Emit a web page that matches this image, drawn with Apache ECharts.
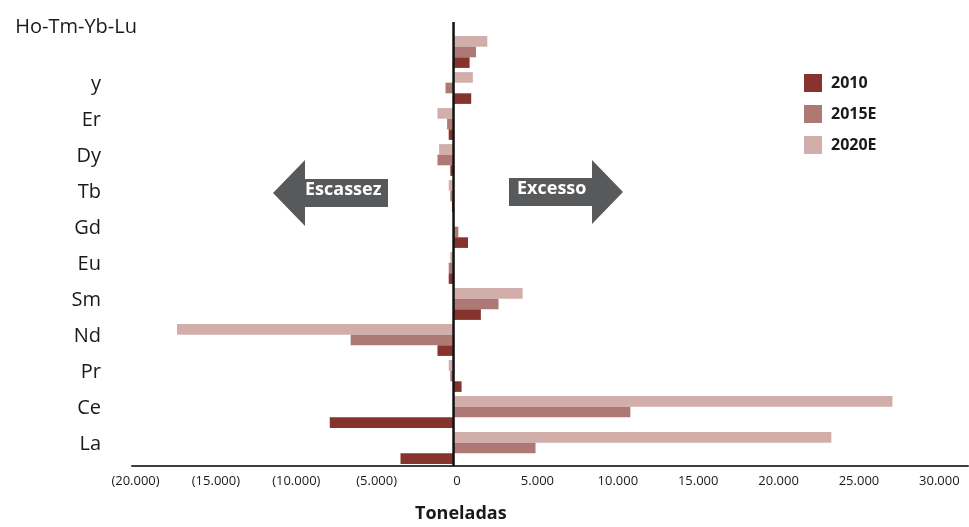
<!DOCTYPE html>
<html>
<head>
<meta charset="utf-8">
<script src="https://cdn.jsdelivr.net/npm/echarts@6/dist/echarts.min.js"></script>
<style>
  html, body { margin: 0; padding: 0; background: #ffffff; }
  #chart { width: 969px; height: 527px; }
</style>
</head>
<body>
<div id="chart"></div>
<script>
// Rare earth balance by element (tonnes): surplus to the right, shortage to the left
const categories = ['La', 'Ce', 'Pr', 'Nd', 'Sm', 'Eu', 'Gd', 'Tb', 'Dy', 'Er', 'y', 'Ho-Tm-Yb-Lu'];
const seriesNames = ['2010', '2015E', '2020E'];
const values2010  = [-3300, -7700,  500,  -1000, 1700, -300, 900, -100, -200, -300, 1100, 1000];
const values2015E = [ 5100, 11000, -200,  -6400, 2800, -300, 300, -200, -1000, -400, -500, 1400];
const values2020E = [23500, 27300, -300, -17200, 4300, -200,   0, -300, -900, -1000, 1200, 2100];
const tickValues = [-20000, -15000, -10000, -5000, 0, 5000, 10000, 15000, 20000, 25000, 30000];

const colors = { '2010': '#86332e', '2015E': '#ae7974', '2020E': '#d2aeab' };
const FONT = '"Open Sans", "Noto Sans", sans-serif';

function fmtThousands(v) {
  const s = String(Math.abs(v)).replace(/\B(?=(\d{3})+(?!\d))/g, '.');
  return v < 0 ? '(' + s + ')' : s;
}

function barSeries(name, data) {
  return {
    name: name, type: 'bar', data: data,
    barWidth: 10.6, barGap: '0%',
    itemStyle: { color: colors[name] }
  };
}

const chart = echarts.init(document.getElementById('chart'), null, { renderer: 'canvas' });

const option = {
  backgroundColor: '#ffffff',
  animation: false,
  grid: { left: 132, top: 34, width: 836, height: 432, containLabel: false },
  legend: {
    data: seriesNames,
    orient: 'vertical',
    left: 804,
    top: 74,
    padding: 0,
    itemWidth: 18,
    itemHeight: 18,
    itemGap: 13,
    icon: 'rect',
    selectedMode: false,
    textStyle: { fontFamily: FONT, fontWeight: 'bold', fontSize: 16, color: '#1a1a1a', padding: [0, 0, 0, 4] }
  },
  xAxis: {
    type: 'value',
    min: -20000,
    max: 32000,
    interval: 5000,
    axisLine: { show: true, lineStyle: { color: '#3d3d3d', width: 2 } },
    axisTick: { show: false },
    splitLine: { show: false },
    axisLabel: {
      margin: 9,
      fontFamily: FONT,
      fontSize: 13,
      color: '#1a1a1a',
      padding: [0, 0, 0, 7],
      showMaxLabel: false,
      formatter: function (v) { return tickValues.indexOf(v) >= 0 ? fmtThousands(v) : ''; }
    }
  },
  yAxis: {
    type: 'category',
    data: categories,
    axisLine: { show: false },
    axisTick: { show: false },
    splitLine: { show: false },
    axisLabel: {
      margin: -5,
      formatter: function (v) { return v === 'Ho-Tm-Yb-Lu' ? '{h|' + v + '}' : '{n|' + v + '}'; },
      rich: {
        n: { fontFamily: FONT, fontSize: 20, color: '#1a1a1a', padding: [0, 36, 8, 0] },
        h: { fontFamily: FONT, fontSize: 20, color: '#1a1a1a', padding: [0, 0, 50, 0] }
      }
    }
  },
  // listed top-down within each group: 2020E above 2015E above 2010
  series: [
    barSeries('2020E', values2020E),
    barSeries('2015E', values2015E),
    barSeries('2010', values2010)
  ]
};

chart.setOption(option);

// Zero line, shortage/surplus arrows and the unit caption
const x0 = chart.convertToPixel({ xAxisIndex: 0 }, 0);
const yBottom = chart.convertToPixel({ yAxisIndex: 0 }, 0) + 18;
const arrowColor = '#58595b';

chart.setOption({
  graphic: [
    {
      type: 'line', z: 100,
      shape: { x1: x0, y1: 22, x2: x0, y2: yBottom },
      style: { stroke: '#111111', lineWidth: 2.5 }
    },
    {
      type: 'polygon', z: 50,
      shape: { points: [[273, 193], [305, 160], [305, 179], [388, 179], [388, 207], [305, 207], [305, 226]] },
      style: { fill: arrowColor }
    },
    {
      type: 'text', z: 51, left: 305, top: 181,
      style: { text: 'Escassez', fill: '#ffffff', font: 'bold 18px ' + FONT }
    },
    {
      type: 'polygon', z: 50,
      shape: { points: [[509, 178], [592, 178], [592, 160], [623, 192], [592, 224], [592, 206], [509, 206]] },
      style: { fill: arrowColor }
    },
    {
      type: 'text', z: 51, left: 517, top: 180,
      style: { text: 'Excesso', fill: '#ffffff', font: 'bold 18px ' + FONT }
    },
    {
      type: 'text', z: 51, left: 415, top: 505,
      style: { text: 'Toneladas', fill: '#1a1a1a', font: 'bold 18px ' + FONT }
    }
  ]
});
</script>
</body>
</html>
